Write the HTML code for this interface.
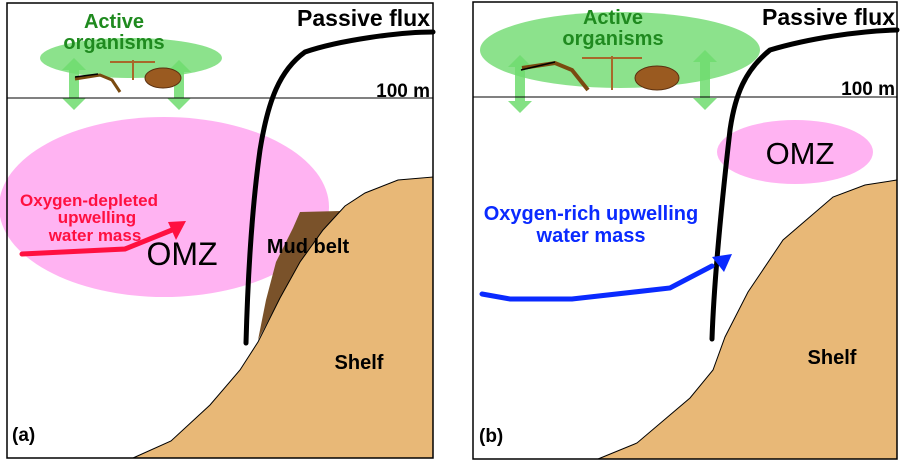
<!DOCTYPE html>
<html><head><style>body{margin:0;background:#fff}svg{display:block}text{font-family:"Liberation Sans",Arial,sans-serif}</style></head><body>
<svg width="900" height="461" viewBox="0 0 900 461">
<!-- Panel a -->
<ellipse cx="164" cy="207" rx="165" ry="90" fill="#ffb3f2"/>
<polygon points="258,340 266,300 276,262 293,228 300,212 340,211 348,212 323,230 300,262 280,298" fill="#7a522a"/>
<polygon points="133,458 171,441 210,405 240,370 258,342 280,298 300,262 323,230 345,206 365,193 398,180 433,177 433,458" fill="#e8b877" stroke="#000" stroke-width="1"/>
<ellipse cx="131" cy="58" rx="91" ry="20" fill="#7fdf7f" opacity="0.9"/>
<g fill="#6fdc6f" opacity="0.85">
<polygon points="74,58 86,70 79,70 79,98 86,98 74,110 62,98 69,98 69,70 62,70"/>
<polygon points="179,60 191,72 184,72 184,98 191,98 179,110 167,98 174,98 174,72 167,72"/>
</g>
<line x1="7" y1="98" x2="433" y2="98" stroke="#000" stroke-width="1"/>
<path d="M433,32 C400,32 340,40 305,52 C280,70 268,100 260,150 C253,200 248,270 246,343" fill="none" stroke="#000" stroke-width="5" stroke-linecap="round"/>
<polyline points="22,254 125,249 172,230" fill="none" stroke="#ff1040" stroke-width="5" stroke-linecap="round"/>
<polygon points="186,221 168,222 176,240" fill="#ff1040"/>
<text x="89" y="206" font-size="17" font-weight="bold" fill="#ff1040" text-anchor="middle">Oxygen-depleted</text>
<text x="97" y="223" font-size="17" font-weight="bold" fill="#ff1040" text-anchor="middle">upwelling</text>
<text x="95" y="241" font-size="17" font-weight="bold" fill="#ff1040" text-anchor="middle">water mass</text>
<text x="182" y="265" font-size="32" fill="#000" text-anchor="middle">OMZ</text>
<text x="308" y="253" font-size="20" font-weight="bold" fill="#000" text-anchor="middle">Mud belt</text>
<text x="359" y="369" font-size="20" font-weight="bold" fill="#000" text-anchor="middle">Shelf</text>
<text x="12" y="441" font-size="19" font-weight="bold" fill="#000">(a)</text>
<text x="114" y="28" font-size="20" font-weight="bold" fill="#1f8a1f" text-anchor="middle">Active</text>
<text x="114" y="49" font-size="20" font-weight="bold" fill="#1f8a1f" text-anchor="middle">organisms</text>
<text x="430" y="26" font-size="23" font-weight="bold" fill="#000" text-anchor="end">Passive flux</text>
<text x="430" y="97" font-size="19" font-weight="bold" fill="#000" text-anchor="end">100 m</text>
<!-- organisms a -->
<path d="M75,79 L100,75 L112,80 L120,92" fill="none" stroke="#7a4a10" stroke-width="3"/>
<path d="M75,77 L98,74" stroke="#000" stroke-width="1.5"/>
<path d="M110,62 L155,62 M133,60 L133,80" stroke="#a8682a" stroke-width="2"/>
<ellipse cx="163" cy="78" rx="18" ry="10" fill="#9a5a20" stroke="#5a3010"/>
<rect x="7" y="3" width="426" height="455" fill="none" stroke="#000" stroke-width="1.5"/>
<!-- Panel b -->
<ellipse cx="795" cy="152" rx="78" ry="32" fill="#ffb3f2"/>
<polygon points="598,459 637,443 690,398 713,370 725,337 748,292 783,240 833,197 865,185 897,180 897,459" fill="#e8b877" stroke="#000" stroke-width="1"/>
<ellipse cx="620" cy="50" rx="140" ry="38" fill="#7fdf7f" opacity="0.9"/>
<g fill="#6fdc6f" opacity="0.85">
<polygon points="520,55 532,67 525,67 525,101 532,101 520,113 508,101 515,101 515,67 508,67"/>
<polygon points="705,50 717,62 710,62 710,98 717,98 705,110 693,98 700,98 700,62 693,62"/>
</g>
<line x1="473" y1="97" x2="897" y2="97" stroke="#000" stroke-width="1"/>
<path d="M897,30 C860,31 810,38 770,50 C745,70 735,95 730,130 C722,200 714,280 712,339" fill="none" stroke="#000" stroke-width="5" stroke-linecap="round"/>
<polyline points="482,294 510,299 572,299 670,288 712,266" fill="none" stroke="#0a2aff" stroke-width="5" stroke-linecap="round"/>
<polygon points="732,254 712,257 724,272" fill="#0a2aff"/>
<text x="591" y="220" font-size="20" font-weight="bold" fill="#0a2aff" text-anchor="middle">Oxygen-rich upwelling</text>
<text x="591" y="242" font-size="20" font-weight="bold" fill="#0a2aff" text-anchor="middle">water mass</text>
<text x="800" y="164" font-size="31" fill="#000" text-anchor="middle">OMZ</text>
<text x="832" y="364" font-size="20" font-weight="bold" fill="#000" text-anchor="middle">Shelf</text>
<text x="479" y="442" font-size="19" font-weight="bold" fill="#000">(b)</text>
<text x="613" y="24" font-size="20" font-weight="bold" fill="#1f8a1f" text-anchor="middle">Active</text>
<text x="613" y="45" font-size="20" font-weight="bold" fill="#1f8a1f" text-anchor="middle">organisms</text>
<text x="895" y="25" font-size="23" font-weight="bold" fill="#000" text-anchor="end">Passive flux</text>
<text x="895" y="95" font-size="19" font-weight="bold" fill="#000" text-anchor="end">100 m</text>
<path d="M522,68 L555,63 L572,70 L588,90" fill="none" stroke="#7a4a10" stroke-width="4"/>
<path d="M521,70 L555,62" stroke="#000" stroke-width="1.5"/>
<path d="M582,58 L642,58 M612,56 L612,90" stroke="#a8682a" stroke-width="2"/>
<ellipse cx="657" cy="78" rx="22" ry="12" fill="#9a5a20" stroke="#5a3010"/>
<rect x="473" y="2" width="424" height="457" fill="none" stroke="#000" stroke-width="1.5"/>
</svg>
</body></html>
